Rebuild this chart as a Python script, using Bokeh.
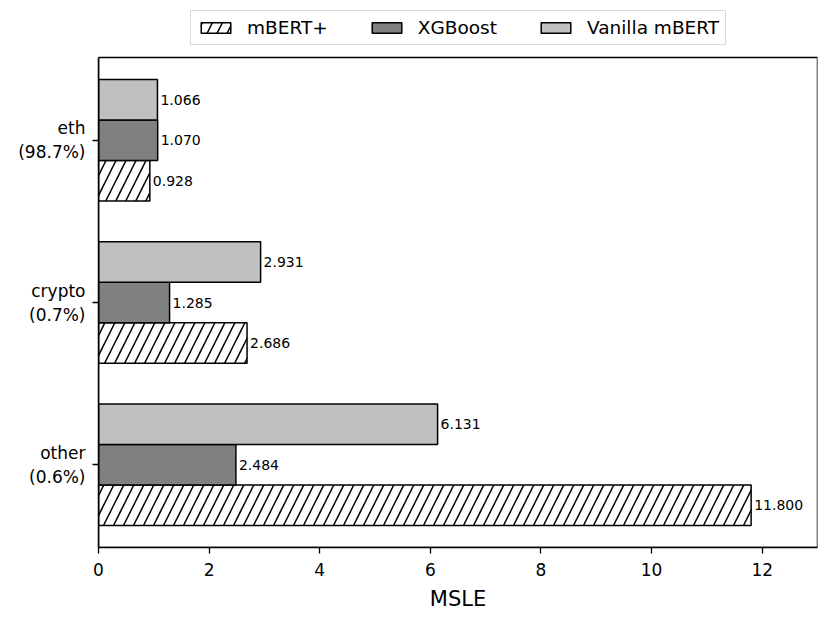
from bokeh.plotting import figure
from bokeh.models import (ColumnDataSource, Legend, LegendItem, FixedTicker, Range1d,
                          BoxAnnotation)
from bokeh.core.properties import value
from bokeh.embed import file_html
from bokeh.resources import INLINE

categories = ["other\n(0.6%)", "crypto\n(0.7%)", "eth\n(98.7%)"]
series_names = ["mBERT+", "XGBoost", "Vanilla mBERT"]
mbert_plus = [11.800, 2.686, 0.928]
xgboost = [2.484, 1.285, 1.070]
vanilla = [6.131, 2.931, 1.066]
x_ticks = [0, 2, 4, 6, 8, 10, 12]

FONT = "DejaVu Sans"
pos = list(range(len(categories)))
bar_h = 0.25
X_MAX = 13.0
Y_LO, Y_HI = -0.51, 2.51
# extra room above the axes box for the legend (57 px at 162.25 px per unit)
Y_TOP = Y_HI + 57 / 162.25

p = figure(width=830, height=620, output_backend="svg", toolbar_location=None,
           x_range=Range1d(0, X_MAX), y_range=Range1d(Y_LO, Y_TOP),
           min_border_left=98, min_border_right=13, min_border_top=0, min_border_bottom=73)

def make_src(vals, off):
    return ColumnDataSource(dict(y=[c + off for c in pos], v=vals,
                                 lab=["%.3f" % v for v in vals]))

s_plus = make_src(mbert_plus, -bar_h)
s_xgb = make_src(xgboost, 0.0)
s_van = make_src(vanilla, bar_h)

r_plus = p.hbar(y="y", right="v", left=0, height=bar_h, source=s_plus,
                fill_color="white", line_color="black", line_width=1.5,
                hatch_pattern="/", hatch_color="black", hatch_scale=20, hatch_weight=1.5)
r_xgb = p.hbar(y="y", right="v", left=0, height=bar_h, source=s_xgb,
               fill_color="#808080", line_color="black", line_width=1.5)
r_van = p.hbar(y="y", right="v", left=0, height=bar_h, source=s_van,
               fill_color="#c0c0c0", line_color="black", line_width=1.5)

for s in (s_plus, s_xgb, s_van):
    p.text(x="v", y="y", text="lab", source=s, x_offset=3, text_baseline="middle",
           text_align="left", text_font=value(FONT), text_font_size="14px", text_color="black")

# axes box
p.add_layout(BoxAnnotation(left=0, right=X_MAX, bottom=Y_LO, top=Y_HI,
                           fill_color=None, fill_alpha=0, line_color="black",
                           line_width=1.5, line_alpha=1.0))

legend = Legend(items=[LegendItem(label=n, renderers=[r])
                       for n, r in zip(series_names, [r_plus, r_xgb, r_van])],
                location=(92, 502), orientation="horizontal",
                glyph_width=37, glyph_height=13, label_standoff=13, spacing=40,
                padding=6, margin=0, label_text_font=FONT, label_text_font_size="18.5px",
                label_text_color="black",
                border_line_color="#b5b5b5", border_line_width=1.8,
                background_fill_color="white", background_fill_alpha=1.0)
p.add_layout(legend)

p.xgrid.visible = False
p.ygrid.visible = False
p.outline_line_color = None

p.xaxis.ticker = FixedTicker(ticks=x_ticks)
p.yaxis.ticker = FixedTicker(ticks=pos)
p.yaxis.major_label_overrides = {i: c for i, c in zip(pos, categories)}
for ax in (p.xaxis[0], p.yaxis[0]):
    ax.axis_line_color = "black"
    ax.axis_line_width = 1.5
    ax.major_tick_line_color = "black"
    ax.major_tick_line_width = 1.3
    ax.major_tick_out = 6
    ax.major_tick_in = 0
    ax.minor_tick_out = 0
    ax.minor_tick_in = 0
    ax.major_label_text_font = FONT
    ax.major_label_text_font_size = "17px"
    ax.major_label_text_color = "black"
p.yaxis.bounds = (Y_LO, Y_HI)
p.yaxis.major_label_standoff = 7
p.xaxis.major_label_standoff = 9
p.xaxis.axis_label = "MSLE"
p.xaxis.axis_label_text_font = FONT
p.xaxis.axis_label_text_font_size = "21px"
p.xaxis.axis_label_text_font_style = "normal"
p.xaxis.axis_label_text_color = "black"
p.xaxis.axis_label_standoff = 8

open("out.html", "w").write(file_html(p, INLINE))
